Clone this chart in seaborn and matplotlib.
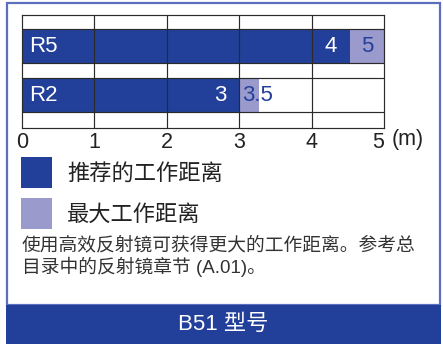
import matplotlib
matplotlib.use("Agg")
import matplotlib.pyplot as plt
import seaborn as sns
import pandas as pd
from matplotlib.patches import Rectangle
import matplotlib.transforms as mtransforms

# ---- data ----
models = ["R5", "R2"]
recommended_extent = [4.53, 3.0]   # drawn length of dark bar
maximum_extent = [5.0, 3.27]       # drawn length of light bar
recommended_labels = ["4", "3"]
maximum_labels = ["5", "3.5"]
x_ticks = [0, 1, 2, 3, 4, 5]
legend_labels = ["推荐的工作距离", "最大工作距离"]
note_text = "使用高效反射镜可获得更大的工作距离。参考总\n目录中的反射镜章节 (A.01)。"
footer_text = "B51 型号"
unit_text = "(m)"

DARK = "#22409a"
LIGHT = "#9a9bcc"
FRAME = "#5b6fbe"
LINE = "#2a2a2a"
TEXT = "#222222"

sns.set_style("white")
plt.rcParams["font.family"] = ["Liberation Sans", "Noto Sans CJK SC", "DejaVu Sans"]

W, H = 443, 344
fig = plt.figure(figsize=(W / 100, H / 100), dpi=100)

def fx(px):
    return px / W

def fy(py):
    return 1 - py / H

# frame and footer
fig.patches.append(Rectangle((fx(6.5), fy(305)), fx(440) - fx(6.5), fy(2.5) - fy(305),
                             transform=fig.transFigure, fill=False, edgecolor=FRAME,
                             linewidth=1.6, zorder=0))
fig.patches.append(Rectangle((fx(5.5), fy(344)), fx(441) - fx(5.5), fy(305) - fy(344),
                             transform=fig.transFigure, facecolor=DARK, edgecolor="none", zorder=1))
fig.text(fx(223), fy(324), footer_text, color="white", fontsize=16, ha="center", va="center")

# ---- chart ----
ax = fig.add_axes([fx(22), fy(128), fx(384) - fx(22), fy(15) - fy(128)])
df = pd.DataFrame({"model": models, "rec": recommended_extent, "max": maximum_extent})
bw = 34 / 49
sns.barplot(data=df, x="max", y="model", orient="h", color=LIGHT, saturation=1,
            width=bw, linewidth=0, ax=ax, zorder=1)
sns.barplot(data=df, x="rec", y="model", orient="h", color=DARK, saturation=1,
            width=bw, linewidth=0, ax=ax, zorder=2)

ax.set_xlim(0, 5)
ax.set_ylim(1 + 33 / 49, -31.25 / 49)
for xv in x_ticks[1:-1]:
    ax.axvline(xv, color=LINE, lw=0.85, zorder=3)
for i in range(len(models)):
    for d in (-bw / 2, bw / 2):
        ax.axhline(i + d, color=LINE, lw=0.85, zorder=3)
for s in ax.spines.values():
    s.set_visible(True)
    s.set_color(LINE)
    s.set_linewidth(0.85)
    s.set_zorder(4)

ax.set_xticks(x_ticks)
ax.set_xticklabels([str(t) for t in x_ticks])
ax.tick_params(axis="x", length=0, pad=3, labelsize=15.5, labelcolor=TEXT)
last = ax.get_xticklabels()[-1]
last.set_transform(last.get_transform() +
                   mtransforms.ScaledTranslation(-5.5 / 100, 0, fig.dpi_scale_trans))
ax.set_yticks([])
ax.set_xlabel("")
ax.set_ylabel("")
fig.text(fx(391.5), fy(139.5), unit_text, ha="left", va="center", fontsize=15.5, color=TEXT)
ax.set_facecolor("white")

# labels inside bars
for i, m in enumerate(models):
    ax.text(0, i, m, color="white", fontsize=16, va="center", ha="left",
            transform=ax.transData + mtransforms.ScaledTranslation(7 / 100, 0, fig.dpi_scale_trans),
            zorder=5)
    ax.text(recommended_extent[i], i, recommended_labels[i], color="white", fontsize=16,
            va="center", ha="right",
            transform=ax.transData + mtransforms.ScaledTranslation(-13 / 100, 0, fig.dpi_scale_trans),
            zorder=5)
    seg_px = (maximum_extent[i] - recommended_extent[i]) * 362 / 5
    if seg_px > 25:
        ax.text((recommended_extent[i] + maximum_extent[i]) / 2, i, maximum_labels[i],
                color=DARK, fontsize=16, va="center", ha="center", zorder=5)
    else:
        ax.text(recommended_extent[i], i, maximum_labels[i], color=DARK, fontsize=16,
                va="center", ha="left",
                transform=ax.transData + mtransforms.ScaledTranslation(3 / 100, 0, fig.dpi_scale_trans),
                zorder=5)

# ---- legend ----
for (top, col, lab) in [(157, DARK, legend_labels[0]), (198, LIGHT, legend_labels[1])]:
    fig.patches.append(Rectangle((fx(21), fy(top + 31)), fx(52) - fx(21), fy(top) - fy(top + 31),
                                 transform=fig.transFigure, facecolor=col, edgecolor="none"))
    fig.text(fx(67), fy(top + 17), lab, fontsize=16, color=TEXT, ha="left", va="center")

fig.text(fx(22), fy(257), note_text, fontsize=13.5, color="#333333", ha="left", va="center",
         linespacing=1.15)

fig.savefig("out.png", dpi=100)
